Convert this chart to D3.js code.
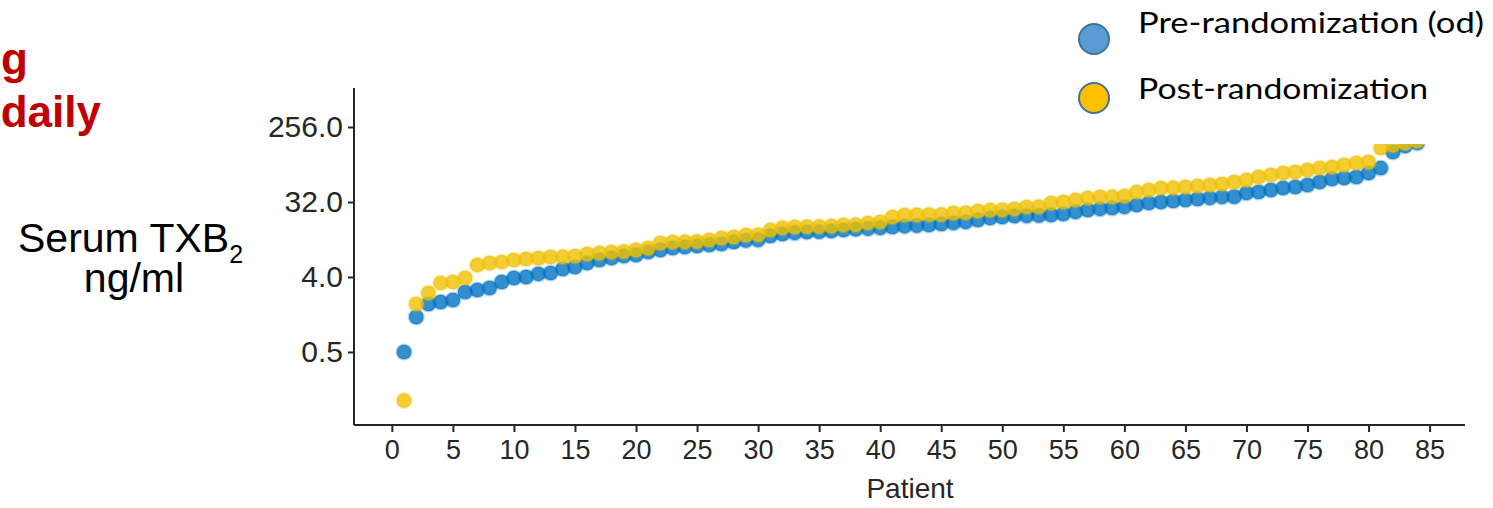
<!DOCTYPE html>
<html><head><meta charset="utf-8">
<script src="https://cdn.jsdelivr.net/npm/d3@7"></script>
<style>html,body{margin:0;padding:0;background:#fff;}svg{display:block;}</style>
</head><body>
<svg id="chart" width="1493" height="508"></svg>
<script>
const patients = d3.range(1, 85);
const preRandomization = [0.5, 1.32, 1.89, 2.0, 2.11, 2.64, 2.79, 2.95, 3.48, 3.89, 4.0, 4.35, 4.47, 4.99, 5.28, 5.9, 6.41, 6.77, 7.16, 7.36, 8.0, 8.46, 8.94, 9.19, 9.45, 9.71, 9.99, 10.56, 11.0, 11.2, 12.47, 13.18, 13.6, 13.9, 14.0, 14.3, 14.7, 15.0, 15.3, 15.6, 16.0, 16.4, 16.6, 16.9, 17.4, 17.9, 18.4, 19.4, 20.5, 21.1, 21.7, 21.8, 22.0, 22.3, 22.9, 24.3, 25.6, 26.4, 27.1, 27.9, 29.4, 31.1, 32.0, 32.9, 33.8, 34.8, 35.8, 36.8, 37.0, 41.1, 42.2, 44.6, 47.2, 48.5, 51.3, 55.7, 60.5, 62.2, 64.0, 71.5, 82.0, 128, 151, 164];
const postRandomization = [0.13, 1.89, 2.57, 3.39, 3.48, 3.89, 5.58, 5.9, 6.06, 6.41, 6.59, 6.77, 6.96, 7.0, 7.16, 7.57, 7.78, 8.0, 8.1, 8.46, 8.94, 10.27, 10.56, 10.6, 10.7, 11.16, 11.79, 12.13, 12.82, 12.9, 14.7, 15.6, 16.0, 16.1, 16.2, 16.4, 16.9, 17.0, 17.9, 18.4, 21.1, 22.3, 22.4, 22.5, 22.6, 23.6, 23.7, 24.9, 25.6, 25.7, 26.4, 27.9, 28.0, 31.1, 32.0, 33.8, 35.8, 36.8, 36.9, 37.8, 42.2, 44.6, 47.2, 47.3, 48.5, 49.9, 51.3, 52.7, 55.7, 58.9, 64.0, 67.6, 71.5, 73.5, 77.7, 82.0, 84.5, 89.3, 94.2, 97.0, 143, 155, 164, 174];
const xTicks = [0, 5, 10, 15, 20, 25, 30, 35, 40, 45, 50, 55, 60, 65, 70, 75, 80, 85];
const yTicks = [0.5, 4, 32, 256];
const yTickLabels = ["0.5", "4.0", "32.0", "256.0"];
const legendLabels = ["Pre-randomization (od)", "Post-randomization"];

const svg = d3.select("#chart");
const x = d3.scaleLinear().domain([-3.1, 87.9]).range([354, 1465]);
const y = d3.scaleLog().base(2).domain([0.066, 755]).range([425, 88]);

const AX = "#262626";
const FONT = "Liberation Sans, Arial, sans-serif";

// points
const series = [
  {vals: preRandomization, color: "#0073C2"},
  {vals: postRandomization, color: "#EFC000"}
];
const gPts = svg.append("g");
series.forEach(s => {
  gPts.selectAll(null).data(patients).enter().append("circle")
    .attr("cx", d => x(d))
    .attr("cy", (d, i) => y(s.vals[i]))
    .attr("r", 7.3)
    .attr("fill", s.color)
    .attr("fill-opacity", 0.8)
    .attr("stroke", s.color)
    .attr("stroke-opacity", 0.3)
    .attr("stroke-width", 2.5);
});

// axes
const yAxis = d3.axisLeft(y).tickValues(yTicks).tickFormat((d, i) => yTickLabels[i]).tickSize(6).tickPadding(5);
const gy = svg.append("g").attr("transform", "translate(354,0)").call(yAxis);
gy.select(".domain").attr("stroke", AX).attr("stroke-width", 2).attr("d", "M0,88V425");
gy.selectAll(".tick line").attr("stroke", AX).attr("stroke-width", 2);
gy.selectAll(".tick text").attr("fill", AX).style("font-family", FONT).style("font-size", "30px");

const xAxis = d3.axisBottom(x).tickValues(xTicks).tickSize(7).tickPadding(8);
const gx = svg.append("g").attr("transform", "translate(0,425)").call(xAxis);
gx.select(".domain").attr("stroke", AX).attr("stroke-width", 2).attr("d", "M354,0H1465");
gx.selectAll(".tick line").attr("stroke", AX).attr("stroke-width", 2);
gx.selectAll(".tick text").attr("fill", AX).style("font-family", FONT).style("font-size", "27px");

svg.append("text").attr("x", 910).attr("y", 498).attr("text-anchor", "middle")
  .attr("fill", AX).style("font-family", FONT).style("font-size", "28px").text("Patient");

// y title
const yt = svg.append("text").attr("x", 18).attr("y", 252)
  .style("font-family", FONT).style("font-size", "41px").attr("fill", "#000");
yt.append("tspan").text("Serum TXB");
yt.append("tspan").attr("dy", 11).style("font-size", "25px").text("2");
svg.append("text").attr("x", 134).attr("y", 292).attr("text-anchor", "middle")
  .style("font-family", FONT).style("font-size", "41px").attr("fill", "#000").text("ng/ml");

// red partial heading
svg.append("text").attr("x", 28).attr("y", 74).attr("text-anchor", "end")
  .style("font-family", FONT).style("font-weight", "bold").style("font-size", "44px")
  .attr("fill", "#C00000").text("g");
svg.append("text").attr("x", 101).attr("y", 127).attr("text-anchor", "end")
  .style("font-family", FONT).style("font-weight", "bold").style("font-size", "44px")
  .attr("fill", "#C00000").text("daily");

// legend (with white backing)
svg.append("rect").attr("x", 1060).attr("y", 0).attr("width", 433).attr("height", 144).attr("fill", "#fff");
const legColors = ["#5B9BD5", "#FFC000"];
const legY = [39, 98];
const legTextY = [33, 99];
const legLen = [346, 290];
legendLabels.forEach((lab, i) => {
  svg.append("circle").attr("cx", 1094).attr("cy", legY[i]).attr("r", 15)
    .attr("fill", legColors[i]).attr("stroke", "#41719C").attr("stroke-width", 2);
  svg.append("text").attr("x", 1138).attr("y", legTextY[i])
    .style("font-family", "Lato, 'Open Sans', sans-serif").style("font-size", "29px").attr("fill", "#000")
    .attr("textLength", legLen[i]).attr("lengthAdjust", "spacingAndGlyphs").text(lab);
});
</script>
</body></html>
